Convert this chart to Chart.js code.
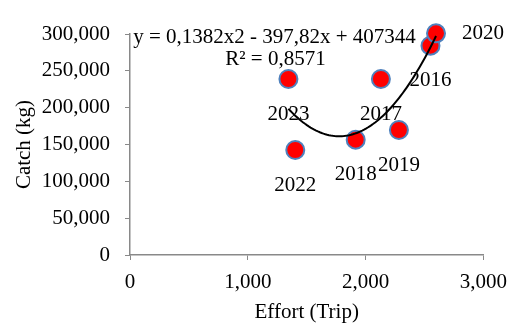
<!DOCTYPE html>
<html>
<head>
<meta charset="utf-8">
<script src="https://cdn.jsdelivr.net/npm/chart.js@4.4.1/dist/chart.umd.min.js"></script>
<style>
  html, body { margin: 0; padding: 0; background: #fff; }
  #wrap { width: 517px; height: 325px; }
</style>
</head>
<body>
<div id="wrap"><canvas id="chart" width="517" height="325"></canvas></div>
<script>
// data
const years = ["2016", "2017", "2018", "2019", "2020", "2022", "2023"];
const effort = [2551, 2130, 1916, 2283, 2598, 1403, 1345];
const catchKg = [284100, 238900, 156500, 169700, 300900, 142500, 238900];
const labelSide = ["below", "below", "below", "below", "right", "below", "below"];

const xTicks = [0, 1000, 2000, 3000];
const yTicks = [0, 50000, 100000, 150000, 200000, 250000, 300000];

const equationText = "y = 0,1382x2 - 397,82x + 407344";
const r2Text = "R² = 0,8571";

const FONT = "'Liberation Serif', 'Times New Roman', serif";
const FS = 21;
const AXIS_GRAY = "#898989";

// least squares quadratic (what the spreadsheet trendline does)
function fitQuad(xs, ys) {
    const s = xs.map(v => v / 1000);
    const S = [0, 0, 0, 0, 0], T = [0, 0, 0];
    s.forEach((x, i) => {
        for (let k = 0; k < 5; k++) S[k] += Math.pow(x, k);
        for (let k = 0; k < 3; k++) T[k] += Math.pow(x, k) * ys[i];
    });
    const m = [
        [S[0], S[1], S[2], T[0]],
        [S[1], S[2], S[3], T[1]],
        [S[2], S[3], S[4], T[2]]
    ];
    for (let c = 0; c < 3; c++) {
        for (let r = c + 1; r < 3; r++) {
            const f = m[r][c] / m[c][c];
            for (let k = c; k < 4; k++) m[r][k] -= f * m[c][k];
        }
    }
    const b = [0, 0, 0];
    for (let r = 2; r >= 0; r--) {
        let v = m[r][3];
        for (let k = r + 1; k < 3; k++) v -= m[r][k] * b[k];
        b[r] = v / m[r][r];
    }
    return x => { const t = x / 1000; return b[0] + b[1] * t + b[2] * t * t; };
}

const trend = fitQuad(effort, catchKg);
const xMin = Math.min(...effort), xMax = Math.max(...effort);
const trendPts = [];
for (let i = 0; i <= 80; i++) {
    const x = xMin + (xMax - xMin) * i / 80;
    trendPts.push({ x: x, y: trend(x) });
}

const yearLabels = {
    id: "yearLabels",
    afterDatasetsDraw(chart) {
        const ctx = chart.ctx;
        const meta = chart.getDatasetMeta(1);
        ctx.save();
        ctx.font = FS + "px " + FONT;
        ctx.fillStyle = "#000";
        ctx.textBaseline = "middle";
        meta.data.forEach((pt, i) => {
            if (labelSide[i] === "right") {
                ctx.textAlign = "left";
                ctx.fillText(years[i], pt.x + 26, pt.y);
            } else {
                ctx.textAlign = "center";
                ctx.fillText(years[i], pt.x, pt.y + 35);
            }
        });
        // trendline equation
        const xs = chart.scales.x, ys = chart.scales.y;
        ctx.textAlign = "center";
        ctx.fillText(equationText, xs.getPixelForValue(1227), ys.getPixelForValue(295500));
        ctx.fillText(r2Text, xs.getPixelForValue(1235), ys.getPixelForValue(265000));
        ctx.restore();
    }
};

new Chart(document.getElementById("chart"), {
    type: "scatter",
    data: {
        datasets: [
            {
                label: "Trend",
                type: "line",
                data: trendPts,
                borderColor: "#000",
                borderWidth: 2,
                pointRadius: 0,
                fill: false,
                tension: 0,
                clip: false,
                order: 0
            },
            {
                label: "Catch",
                data: effort.map((x, i) => ({ x: x, y: catchKg[i] })),
                backgroundColor: "#ff0000",
                borderColor: "#4f81bd",
                borderWidth: 2,
                pointRadius: 9,
                clip: false,
                order: 1
            }
        ]
    },
    options: {
        responsive: false,
        animation: false,
        layout: { padding: { left: 12, right: 29, top: 34, bottom: 0 } },
        plugins: { legend: { display: false }, tooltip: { enabled: false } },
        scales: {
            x: {
                type: "linear",
                min: 0, max: 3000,
                afterBuildTicks: s => { s.ticks = xTicks.map(v => ({ value: v })); },
                afterFit: s => { s.height = 70; },
                ticks: {
                    color: "#000",
                    font: { family: FONT, size: FS },
                    padding: 10,
                    callback: v => v.toLocaleString("en-US")
                },
                grid: { drawOnChartArea: false, color: AXIS_GRAY, tickLength: 5 },
                border: { color: AXIS_GRAY, width: 1.5 },
                title: { display: true, text: "Effort (Trip)", color: "#000", font: { family: FONT, size: FS }, padding: 0 }
            },
            y: {
                min: 0, max: 300000,
                afterBuildTicks: s => { s.ticks = yTicks.map(v => ({ value: v })); },
                afterFit: s => { s.width = 118; },
                ticks: {
                    color: "#000",
                    font: { family: FONT, size: FS },
                    padding: 15,
                    callback: v => v.toLocaleString("en-US")
                },
                grid: { drawOnChartArea: false, color: AXIS_GRAY, tickLength: 5 },
                border: { color: AXIS_GRAY, width: 1.5 },
                title: { display: true, text: "Catch (kg)", color: "#000", font: { family: FONT, size: FS }, padding: 0 }
            }
        }
    },
    plugins: [yearLabels]
});
</script>
</body>
</html>
